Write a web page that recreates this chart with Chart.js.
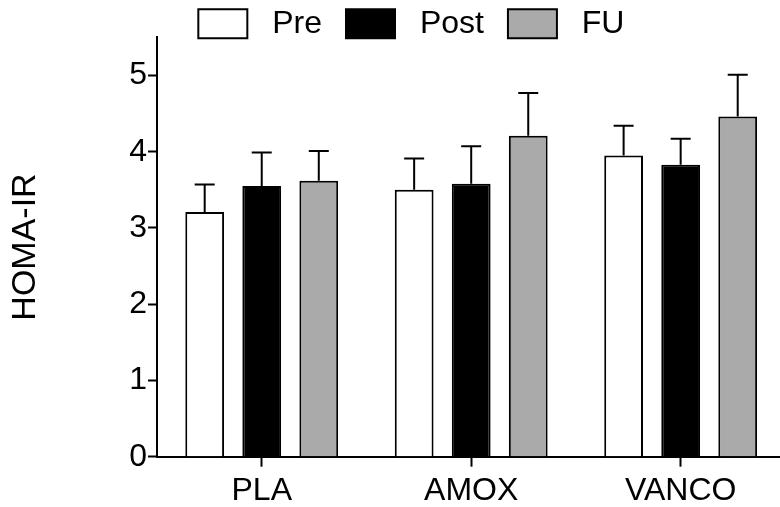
<!DOCTYPE html>
<html>
<head>
<meta charset="utf-8">
<script src="https://cdn.jsdelivr.net/npm/chart.js@4/dist/chart.umd.min.js"></script>
<style>
  html, body { margin: 0; padding: 0; background: #ffffff; }
  #wrap { width: 780px; height: 507px; position: relative; }
</style>
</head>
<body>
<div id="wrap"><canvas id="c"></canvas></div>
<script>
// ---- data ----
const categories = ['PLA', 'AMOX', 'VANCO'];
const seriesNames = ['Pre', 'Post', 'FU'];
const preMean  = [3.21, 3.50, 3.95];
const postMean = [3.55, 3.58, 3.83];
const fuMean   = [3.62, 4.21, 4.46];
const preSem   = [0.36, 0.41, 0.39];
const postSem  = [0.44, 0.49, 0.34];
const fuSem    = [0.39, 0.56, 0.55];
const yTicks   = [0, 1, 2, 3, 4, 5];
const yTitle   = 'HOMA-IR';

const FONT = '"Liberation Sans", Arial, Helvetica, sans-serif';
const semBySeries = [preSem, postSem, fuSem];

const errorBars = {
  id: 'errorBars',
  afterDatasetsDraw(chart) {
    const ctx = chart.ctx;
    const ys = chart.scales.y;
    ctx.save();
    ctx.strokeStyle = '#000';
    ctx.lineWidth = 2;
    chart.data.datasets.forEach((ds, i) => {
      const meta = chart.getDatasetMeta(i);
      meta.data.forEach((bar, j) => {
        const topPx = ys.getPixelForValue(ds.data[j] + semBySeries[i][j]);
        ctx.beginPath();
        ctx.moveTo(bar.x, bar.y);
        ctx.lineTo(bar.x, topPx);
        ctx.moveTo(bar.x - 10, topPx);
        ctx.lineTo(bar.x + 10, topPx);
        ctx.stroke();
      });
    });
    ctx.restore();
  }
};

// extend the category axis past the right canvas edge (cropped as in the reference)
// and let the legend (which overlaps the top of the plot) draw without clipping
const extendX = {
  id: 'extendX',
  afterLayout(chart) {
    const xs = chart.scales.x;
    const R = 785.4;
    xs.right = R;
    xs.width = R - xs.left;
    chart.chartArea.right = R;
    chart.chartArea.width = R - chart.chartArea.left;
    xs.configure();
    if (chart.legend) {
      chart.legend.bottom = chart.legend.top + 70;
      chart.legend.height = 70;
    }
  }
};

new Chart(document.getElementById('c'), {
  type: 'bar',
  data: {
    labels: categories,
    datasets: [
      { label: seriesNames[0], data: preMean,  backgroundColor: '#ffffff', borderColor: '#000000', borderWidth: 2 },
      { label: seriesNames[1], data: postMean, backgroundColor: '#000000', borderColor: '#000000', borderWidth: 2 },
      { label: seriesNames[2], data: fuMean,   backgroundColor: '#aaaaaa', borderColor: '#000000', borderWidth: 2 }
    ]
  },
  plugins: [errorBars, extendX],
  options: {
    responsive: true,
    maintainAspectRatio: false,
    animation: false,
    datasets: { bar: { categoryPercentage: 0.817, barPercentage: 0.68 } },
    layout: { padding: { left: 42.8, right: 0, top: -16.2, bottom: 0 } },
    plugins: {
      tooltip: { enabled: false },
      legend: {
        display: true,
        position: 'top',
        align: 'center',
        maxHeight: 53.5,
        labels: {
          color: '#000',
          font: { family: FONT, size: 32 },
          boxWidth: 49,
          boxHeight: 29,
          padding: 24,
          generateLabels(chart) {
            return chart.data.datasets.map((ds, i) => ({
              text: ' ' + ds.label,
              fillStyle: ds.backgroundColor,
              strokeStyle: '#000',
              lineWidth: 2,
              fontColor: '#000',
              hidden: false,
              datasetIndex: i
            }));
          }
        }
      }
    },
    scales: {
      x: {
        type: 'category',
        offset: true,
        grid: { display: true, drawOnChartArea: false, drawTicks: true, offset: false, tickLength: 10, tickWidth: 2, tickColor: '#000' },
        border: { display: true, color: '#000', width: 2 },
        ticks: { color: '#000', font: { family: FONT, size: 32 }, padding: 5, maxRotation: 0, autoSkip: false },
        afterFit(scale) { scale.height = 50.3; }
      },
      y: {
        min: 0,
        max: 5.5,
        afterBuildTicks(axis) { axis.ticks = yTicks.map(v => ({ value: v })); },
        grid: { display: true, drawOnChartArea: false, drawTicks: true, tickLength: 9, tickWidth: 2, tickColor: '#000' },
        border: { display: true, color: '#000', width: 2 },
        ticks: { color: '#000', font: { family: FONT, size: 32 }, padding: 1 },
        title: { display: true, text: yTitle, color: '#000', font: { family: FONT, size: 34 }, padding: { top: -37.2, bottom: 0 } },
        afterFit(scale) { scale.width = 157 - 42.8; }
      }
    }
  }
});
</script>
</body>
</html>
